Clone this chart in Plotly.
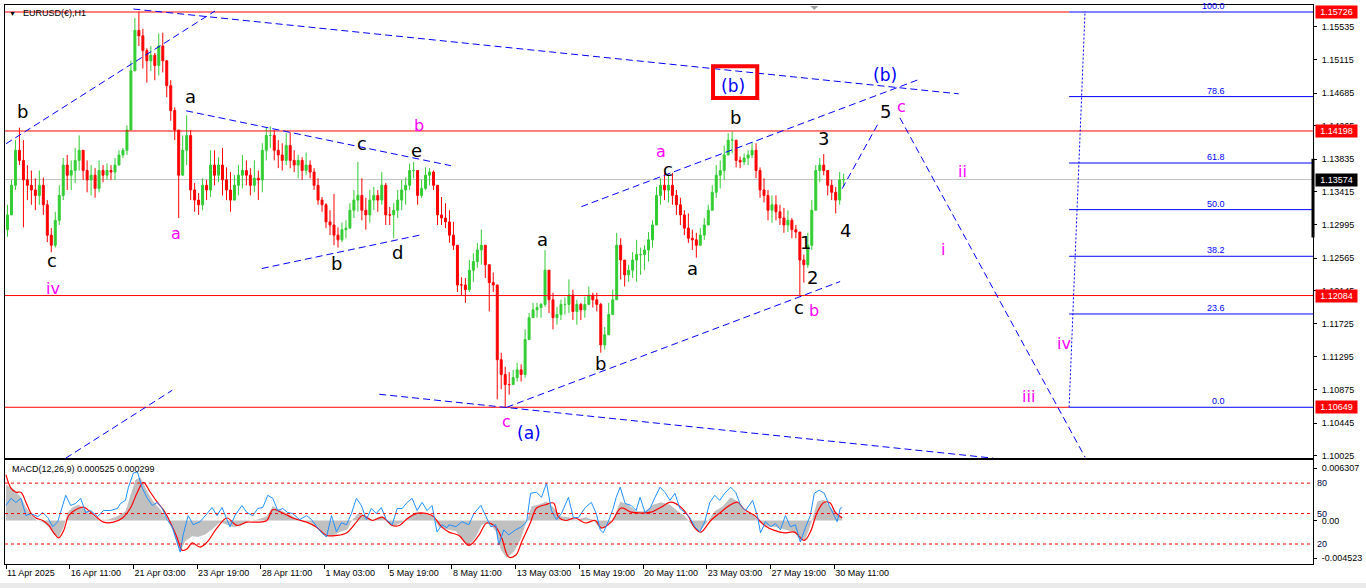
import plotly.graph_objects as go

# ------------------------------------------------------------------ data
symbol_title = "EURUSD(\u20ac),H1"
macd_title = "MACD(12,26,9) 0.000525 0.000299"

bars_per_candle = 4          # each drawn candle aggregates 4 H1 bars
open_first = 1.1293

close = [
    1.1312, 1.1350, 1.1395, 1.1382, 1.1357, 1.1350, 1.1344, 1.1337, 1.1350, 1.1325,
    1.1286, 1.1273, 1.1305, 1.1337, 1.1376, 1.1363, 1.1369, 1.1382, 1.1395, 1.1369,
    1.1357, 1.1363, 1.1346, 1.1369, 1.1363, 1.1369, 1.1367, 1.1376, 1.1389, 1.1395,
    1.1421, 1.1497, 1.1549, 1.1542, 1.1523, 1.1510, 1.1517, 1.1504, 1.1529, 1.1510,
    1.1478, 1.1446, 1.1421, 1.1363, 1.1395, 1.1414, 1.1344, 1.1331, 1.1325, 1.1350,
    1.1344, 1.1376, 1.1363, 1.1376, 1.1357, 1.1344, 1.1331, 1.1350, 1.1363, 1.1369,
    1.1363, 1.1350, 1.1359, 1.1357, 1.1395, 1.1414, 1.1414, 1.1395, 1.1389, 1.1382,
    1.1401, 1.1382, 1.1376, 1.1382, 1.1369, 1.1376, 1.1367, 1.1350, 1.1331, 1.1325,
    1.1303, 1.1299, 1.1286, 1.1280, 1.1293, 1.1295, 1.1318, 1.1331, 1.1337, 1.1318,
    1.1312, 1.1331, 1.1337, 1.1331, 1.1350, 1.1312, 1.1312, 1.1318, 1.1331, 1.1344,
    1.1350, 1.1369, 1.1369, 1.1337, 1.1346, 1.1363, 1.1367, 1.1350, 1.1312, 1.1308,
    1.1303, 1.1286, 1.1273, 1.1222, 1.1222, 1.1216, 1.1241, 1.1252, 1.1267, 1.1273,
    1.1248, 1.1225, 1.1222, 1.1126, 1.1107, 1.1094, 1.1094, 1.1103, 1.1113, 1.1107,
    1.1152, 1.1180, 1.1190, 1.1193, 1.1197, 1.1241, 1.1203, 1.1180, 1.1184, 1.1197,
    1.1197, 1.1209, 1.1188, 1.1197, 1.1190, 1.1197, 1.1209, 1.1203, 1.1197, 1.1145,
    1.1158, 1.1184, 1.1203, 1.1273, 1.1254, 1.1235, 1.1241, 1.1254, 1.1261, 1.1261,
    1.1267, 1.1280, 1.1299, 1.1337, 1.1350, 1.1344, 1.1350, 1.1337, 1.1325, 1.1312,
    1.1295, 1.1282, 1.1280, 1.1273, 1.1286, 1.1299, 1.1318, 1.1341, 1.1363, 1.1369,
    1.1389, 1.1408, 1.1408, 1.1382, 1.1380, 1.1385, 1.1389, 1.1395, 1.1369, 1.1344,
    1.1337, 1.1318, 1.1325, 1.1316, 1.1308, 1.1299, 1.1305, 1.1293, 1.1290, 1.1254,
    1.1248, 1.1273, 1.1318, 1.1369, 1.1376, 1.1369, 1.1350, 1.1341, 1.1331, 1.1357,
    1.13574,
]
high = [
    1.1325, 1.1357, 1.1408, 1.1424, 1.1408, 1.1376, 1.1369, 1.1359, 1.1369, 1.1360,
    1.1331, 1.1295, 1.1316, 1.1350, 1.1385, 1.1389, 1.1382, 1.1398, 1.1414, 1.1395,
    1.1382, 1.1376, 1.1372, 1.1382, 1.1376, 1.1378, 1.1376, 1.1385, 1.1395, 1.1398,
    1.1427, 1.1510, 1.1565, 1.1573, 1.1551, 1.1526, 1.1529, 1.1520, 1.1545, 1.1546,
    1.1510, 1.1485, 1.1450, 1.1421, 1.1414, 1.1440, 1.1421, 1.1353, 1.1340, 1.1359,
    1.1357, 1.1395, 1.1395, 1.1386, 1.1398, 1.1373, 1.1367, 1.1363, 1.1376, 1.1389,
    1.1382, 1.1372, 1.1382, 1.1369, 1.1404, 1.1424, 1.1426, 1.1421, 1.1408, 1.1404,
    1.1417, 1.1418, 1.1395, 1.1389, 1.1386, 1.1392, 1.1382, 1.1372, 1.1359, 1.1335,
    1.1327, 1.1318, 1.1339, 1.1296, 1.1302, 1.1305, 1.1327, 1.1344, 1.1380, 1.1359,
    1.1334, 1.1344, 1.1348, 1.1344, 1.1367, 1.1353, 1.1322, 1.1327, 1.1344, 1.1357,
    1.1360, 1.1378, 1.1380, 1.1363, 1.1357, 1.1373, 1.1372, 1.1369, 1.1346, 1.1335,
    1.1327, 1.1318, 1.1303, 1.1273, 1.1232, 1.1231, 1.1254, 1.1263, 1.1276, 1.1293,
    1.1263, 1.1241, 1.1238, 1.1220, 1.1135, 1.1117, 1.1110, 1.1113, 1.1122, 1.1120,
    1.1165, 1.1186, 1.1199, 1.1199, 1.1199, 1.1267, 1.1238, 1.1212, 1.1194, 1.1203,
    1.1206, 1.1229, 1.1216, 1.1203, 1.1199, 1.1207, 1.1220, 1.1212, 1.1212, 1.1199,
    1.1168, 1.1199, 1.1216, 1.1289, 1.1282, 1.1250, 1.1248, 1.1264, 1.1280, 1.1270,
    1.1273, 1.1290, 1.1305, 1.1348, 1.1359, 1.1366, 1.1363, 1.1366, 1.1344, 1.1334,
    1.1318, 1.1314, 1.1293, 1.1289, 1.1295, 1.1308, 1.1325, 1.1350, 1.1376, 1.1382,
    1.1401, 1.1417, 1.1419, 1.1408, 1.1387, 1.1391, 1.1395, 1.1405, 1.1404, 1.1373,
    1.1359, 1.1344, 1.1337, 1.1337, 1.1325, 1.1321, 1.1318, 1.1308, 1.1299, 1.1290,
    1.1261, 1.1289, 1.1331, 1.1376, 1.1385, 1.1390, 1.1367, 1.1357, 1.1348, 1.1367,
    1.1365,
]
low = [
    1.1284, 1.1312, 1.1344, 1.1376, 1.1296, 1.1331, 1.1325, 1.1318, 1.1325, 1.1312,
    1.1277, 1.1264, 1.1270, 1.1299, 1.1331, 1.1344, 1.1344, 1.1353, 1.1369, 1.1357,
    1.1341, 1.1337, 1.1334, 1.1341, 1.1354, 1.1357, 1.1357, 1.1357, 1.1380, 1.1385,
    1.1389, 1.1421, 1.1497, 1.1529, 1.1500, 1.1482, 1.1497, 1.1485, 1.1491, 1.1495,
    1.1463, 1.1433, 1.1408, 1.1308, 1.1363, 1.1376, 1.1331, 1.1316, 1.1312, 1.1318,
    1.1331, 1.1335, 1.1350, 1.1354, 1.1337, 1.1331, 1.1316, 1.1334, 1.1337, 1.1346,
    1.1350, 1.1337, 1.1341, 1.1331, 1.1341, 1.1382, 1.1398, 1.1382, 1.1372, 1.1369,
    1.1376, 1.1372, 1.1367, 1.1359, 1.1357, 1.1363, 1.1359, 1.1344, 1.1325, 1.1316,
    1.1295, 1.1286, 1.1273, 1.1270, 1.1277, 1.1282, 1.1295, 1.1308, 1.1316, 1.1305,
    1.1293, 1.1302, 1.1318, 1.1316, 1.1325, 1.1299, 1.1299, 1.1282, 1.1308, 1.1318,
    1.1325, 1.1344, 1.1359, 1.1325, 1.1334, 1.1344, 1.1350, 1.1344, 1.1299, 1.1299,
    1.1295, 1.1276, 1.1267, 1.1213, 1.1209, 1.1199, 1.1213, 1.1226, 1.1244, 1.1248,
    1.1231, 1.1188, 1.1213, 1.1075, 1.1088, 1.1065, 1.1081, 1.1094, 1.1098, 1.1098,
    1.1103, 1.1158, 1.1180, 1.1180, 1.1180, 1.1194, 1.1186, 1.1165, 1.1171, 1.1177,
    1.1184, 1.1186, 1.1177, 1.1171, 1.1177, 1.1180, 1.1197, 1.1193, 1.1188, 1.1135,
    1.1139, 1.1171, 1.1184, 1.1213, 1.1229, 1.1220, 1.1226, 1.1231, 1.1226, 1.1235,
    1.1241, 1.1252, 1.1270, 1.1299, 1.1325, 1.1331, 1.1328, 1.1325, 1.1312, 1.1299,
    1.1286, 1.1276, 1.1267, 1.1257, 1.1273, 1.1280, 1.1303, 1.1318, 1.1334, 1.1346,
    1.1357, 1.1389, 1.1391, 1.1373, 1.1372, 1.1376, 1.1376, 1.1385, 1.1359, 1.1334,
    1.1328, 1.1305, 1.1302, 1.1305, 1.1299, 1.1289, 1.1290, 1.1282, 1.1282, 1.1208,
    1.1225, 1.1244, 1.1267, 1.1325, 1.1354, 1.1363, 1.1337, 1.1331, 1.1314, 1.1325,
    1.1349,
]

# time axis (H1 bar index) and its labels
date_idx = [0, 64, 128, 192, 256, 320, 384, 448, 512, 576, 640, 704, 768, 832]
date_labels = ["11 Apr 2025", "16 Apr 11:00", "21 Apr 03:00", "23 Apr 19:00",
               "28 Apr 11:00", "1 May 03:00", "5 May 19:00", "8 May 11:00",
               "13 May 03:00", "15 May 19:00", "20 May 11:00", "23 May 03:00",
               "27 May 19:00", "30 May 11:00"]
x_min, x_max = -1, 1313

price_ticks = [1.15535, 1.15115, 1.14685, 1.14265, 1.13835, 1.13415, 1.12995,
               1.12565, 1.12145, 1.11725, 1.11295, 1.10875, 1.10445, 1.10025]
price_range = [1.09995, 1.15816]
red_levels = [1.15726, 1.14198, 1.12084, 1.10649]
current_price = 1.13574
range_marker = [1.12828, 1.13841]

fib_low, fib_high = 1.10649, 1.15726
fib_pcts = [0.0, 23.6, 38.2, 50.0, 61.8, 78.6, 100.0]
fib_start_idx = 1068
fib_label_idx = 1227

# trend / projection lines: (idx0, price0, idx1, price1)
trend_lines = [
    (0, 1.14034, 210, 1.15739),
    (128, 1.15764, 957, 1.14675),
    (181, 1.14457, 447, 1.13752),
    (257, 1.12431, 418, 1.12867),
    (60, 1.09995, 167, 1.10867),
    (375, 1.10816, 992, 1.09995),
    (503, 1.10649, 838, 1.12264),
    (578, 1.13226, 916, 1.14854),
    (840, 1.13457, 876, 1.14290),
    (898, 1.14367, 1084, 1.10008),
]
fib_diagonal = (1068, 1.10649, 1084, 1.15739)
highlight_box = (710.3, 1.14620, 754.7, 1.15030)

# wave labels: (text, bar index, price)
black_labels = [
    ("b", 17, 1.14444), ("c", 46, 1.12534), ("a", 185, 1.14636), ("c", 358, 1.14034),
    ("e", 412, 1.13944), ("b", 332, 1.12495), ("d", 393, 1.12636), ("a", 539, 1.12803),
    ("b", 597, 1.11213), ("c", 665, 1.13700), ("a", 690, 1.12431), ("b", 733, 1.14367),
    ("3", 821, 1.14098), ("4", 843, 1.12918), ("1", 803, 1.12764), ("2", 810, 1.12316),
    ("c", 797, 1.11931), ("5", 884, 1.14444),
]
pink_labels = [
    ("iv", 47, 1.12175), ("a", 171, 1.12880), ("b", 415, 1.14264), ("a", 658, 1.13931),
    ("c", 503, 1.10469), ("b", 812, 1.11893), ("c", 900, 1.14508), ("ii", 961, 1.13675),
    ("i", 941, 1.12675), ("iv", 1063, 1.11469), ("iii", 1027, 1.10790),
]
blue_labels = [("(b)", 730, 1.14777), ("(b)", 883, 1.14918), ("(a)", 525, 1.10316)]

# lower pane -------------------------------------------------------
macd_hist_idx = [0, 5, 10, 15, 20, 25, 30, 37, 43, 48, 53, 58, 62, 67, 73, 80, 87, 93,
                 102, 112, 120, 125, 130, 135, 142, 148, 155, 162, 167, 172, 175, 180,
                 187, 193, 200, 207, 215, 222, 228, 235, 243, 252, 262, 268, 275, 285,
                 295, 305, 313, 320, 328, 335, 343, 348, 355, 362, 368, 377, 383, 390,
                 398, 407, 413, 422, 428, 435, 443, 452, 460, 465, 472, 478, 485, 492,
                 497, 503, 510, 517, 523, 528, 535, 543, 550, 557, 565, 573, 582, 590,
                 597, 603, 610, 617, 625, 633, 642, 650, 658, 667, 675, 682, 690, 697,
                 705, 712, 720, 728, 735, 742, 750, 757, 765, 773, 782, 792, 798, 803,
                 810, 815, 822, 828, 835, 840]
macd_hist_e4 = [43, 40, 35, 28, 16, 7, 1, -2, -8, -17, -20, -8, 10, 16, 19, 13, 7, 1,
                1, 5, 11, 31, 49, 52, 35, 23, 13, 1, -11, -29, -38, -25,
                -19, -20, -17, -11, -2, -5, -8, -7, -1, 1, 5, 17, 13, 7,
                1, -2, -7, -17, -19, -14, -11, 1, 10, 5, 1, 5, -1, -7,
                -2, 7, 11, 7, 5, -8, -11, -13, -26, -31, -20, -5, -2, -13,
                -35, -45, -38, -23, -1, 17, 19, 23, 16, 5, 4, 1, 4, 1,
                -11, -7, 1, 23, 19, 11, 11, 19, 22, 19, 11, 5, -7, -13,
                -1, 11, 17, 28, 23, 11, 7, -2, -7, -8, -11, -14, -25, -23,
                1, 23, 25, 16, 7, 5]
macd_signal_idx = [0, 5, 10, 15, 20, 25, 30, 37, 43, 48, 53, 58, 63, 70, 78, 85, 92, 98,
                   108, 117, 125, 132, 138, 145, 152, 158, 165, 172, 177, 182, 187, 195,
                   202, 212, 222, 232, 242, 252, 262, 268, 278, 288, 302, 312, 322, 332,
                   342, 352, 358, 368, 378, 388, 395, 405, 415, 428, 438, 445, 455, 465,
                   475, 483, 492, 498, 505, 512, 518, 527, 533, 542, 550, 555, 562, 572,
                   582, 592, 598, 608, 618, 628, 638, 648, 658, 668, 678, 685, 692, 698,
                   708, 718, 728, 735, 742, 752, 762, 772, 782, 792, 802, 808, 815, 822,
                   828, 833, 840]
macd_signal_e4 = [55, 39, 34, 34, 22, 9, 3, 0, -6, -15, -21, -12, 6, 13, 16, 10, 3, -2,
                  -2, 3, 15, 34, 46, 34, 22, 13, -2, -21, -36, -34, -27, -32,
                  -26, -9, 3, -6, -2, -2, 0, 13, 9, 3, -2, -8, -18, -18,
                  -15, -2, 6, 0, 4, -6, -6, 4, 9, 6, -8, -14, -18, -30,
                  -18, -3, -8, -21, -44, -42, -26, -2, 15, 19, 21, 4, 0, 3,
                  -3, 0, -9, -2, 15, 10, 9, 10, 16, 22, 16, 6, -9, -14,
                  0, 10, 19, 22, 13, 6, -6, -12, -15, -14, -24, -14, 10, 22,
                  21, 10, 3]
osc_idx = [0, 5, 10, 15, 20, 25, 32, 37, 42, 47, 52, 57, 60, 65, 70, 75, 80, 85, 92, 98,
           105, 112, 115, 120, 123, 128, 132, 137, 142, 147, 152, 157, 162, 167, 172, 175,
           178, 183, 188, 195, 202, 207, 212, 217, 222, 225, 230, 237, 242, 248, 253, 258,
           263, 268, 273, 278, 283, 288, 295, 302, 307, 312, 317, 322, 327, 332, 337, 342,
           347, 352, 357, 362, 367, 372, 377, 382, 388, 393, 398, 403, 408, 413, 418, 423,
           428, 433, 438, 443, 445, 452, 458, 465, 470, 477, 482, 487, 492, 495, 500, 505,
           512, 518, 523, 527, 533, 538, 543, 548, 553, 558, 565, 570, 575, 582, 588, 593,
           597, 600, 605, 610, 613, 617, 622, 628, 633, 637, 642, 647, 652, 657, 662, 667,
           672, 677, 682, 687, 692, 697, 702, 707, 712, 717, 722, 728, 733, 738, 743, 750,
           755, 758, 763, 768, 773, 778, 783, 788, 793, 798, 803, 808, 812, 817, 822, 827,
           832, 835, 838, 840]
osc_val = [58, 65, 61, 65, 48, 50, 47, 51, 46, 37, 42, 58, 68, 58, 60, 65, 51, 53, 47, 53,
           53, 55, 60, 63, 76, 90, 91, 75, 65, 58, 61, 55, 44, 37, 22, 12,
           29, 48, 39, 42, 50, 56, 48, 56, 44, 37, 48, 58, 51, 48, 55, 56,
           68, 65, 53, 55, 51, 50, 44, 48, 44, 37, 31, 27, 48, 32, 41, 39,
           50, 65, 58, 44, 55, 50, 56, 44, 39, 55, 55, 61, 65, 53, 61, 53,
           58, 32, 39, 36, 39, 37, 42, 39, 50, 58, 47, 37, 39, 19, 34, 29,
           34, 37, 42, 70, 71, 66, 80, 53, 44, 50, 66, 46, 46, 56, 61, 50,
           34, 31, 42, 55, 66, 76, 60, 58, 53, 66, 51, 55, 66, 76, 71, 63,
           70, 55, 51, 46, 37, 32, 42, 61, 68, 63, 70, 76, 71, 58, 53, 63,
           47, 31, 42, 37, 40, 34, 48, 37, 39, 22, 36, 48, 70, 73, 70, 58,
           48, 42, 55, 56]
osc_levels = [80, 50, 20]
macd_range = [-0.005245, 0.007266]
macd_ticks = [0.006307, 0.0, -0.004523]
macd_ticktext = ["0.006307", "0.00", "-0.004523"]
osc_range = [0.3, 102.6]

# ------------------------------------------------------------------ build
n = min(len(close), len(high), len(low))
opens = [open_first] + close[:n - 1]
hi = [max(high[i], opens[i], close[i]) for i in range(n)]
lo = [min(low[i], opens[i], close[i]) for i in range(n)]
cx = [i * bars_per_candle + (bars_per_candle - 1) / 2 for i in range(n)]

AX_FONT = dict(family="Liberation Sans, Arial, sans-serif", size=9, color="black")
LBL_FONT = "DejaVu Sans, Verdana, sans-serif"
BLUE = "#0000FF"
RED = "#FF0000"
PINK = "#FF00FF"

fig = go.Figure()

fig.add_trace(go.Candlestick(
    x=cx, open=opens, high=hi, low=lo, close=close[:n],
    increasing=dict(line=dict(color="#32CD32", width=1), fillcolor="#32CD32"),
    decreasing=dict(line=dict(color=RED, width=1), fillcolor=RED),
    whiskerwidth=0, xaxis="x", yaxis="y", showlegend=False, hoverinfo="skip",
))

fig.add_trace(go.Scatter(
    x=macd_hist_idx, y=[v * 1e-4 for v in macd_hist_e4], mode="lines",
    line=dict(width=0, color="#C0C0C0"), fill="tozeroy", fillcolor="#C0C0C0",
    xaxis="x2", yaxis="y2", showlegend=False, hoverinfo="skip",
))
fig.add_trace(go.Scatter(
    x=macd_signal_idx, y=[v * 1e-4 for v in macd_signal_e4], mode="lines",
    line=dict(width=1.2, color=RED, shape="spline"),
    xaxis="x2", yaxis="y2", showlegend=False, hoverinfo="skip",
))
fig.add_trace(go.Scatter(
    x=osc_idx, y=osc_val, mode="lines", line=dict(width=1, color="#1E90FF"),
    xaxis="x2", yaxis="y3", showlegend=False, hoverinfo="skip",
))

shapes = []
# current price (bid) line below candles
shapes.append(dict(type="line", xref="x", yref="y", x0=x_min, x1=x_max,
                   y0=current_price, y1=current_price, layer="below",
                   line=dict(color="#C0C0C0", width=1)))
for lv in red_levels:
    x1 = fib_start_idx if lv in (fib_low, fib_high) else x_max
    shapes.append(dict(type="line", xref="x", yref="y", x0=x_min, x1=x1,
                       y0=lv, y1=lv, line=dict(color=RED, width=1)))
for p in fib_pcts:
    lv = fib_low + (fib_high - fib_low) * p / 100.0
    shapes.append(dict(type="line", xref="x", yref="y", x0=fib_start_idx, x1=x_max,
                       y0=lv, y1=lv, line=dict(color=BLUE, width=1)))
for (a0, p0, a1, p1) in trend_lines:
    shapes.append(dict(type="line", xref="x", yref="y", x0=a0, y0=p0, x1=a1, y1=p1,
                       line=dict(color=BLUE, width=1, dash="7px,4px")))
a0, p0, a1, p1 = fib_diagonal
shapes.append(dict(type="line", xref="x", yref="y", x0=a0, y0=p0, x1=a1, y1=p1,
                   line=dict(color=BLUE, width=1, dash="2px,2px")))
bx0, by0, bx1, by1 = highlight_box
shapes.append(dict(type="rect", xref="x", yref="y", x0=bx0, y0=by0, x1=bx1, y1=by1,
                   line=dict(color=RED, width=4)))
# range marker on right edge
shapes.append(dict(type="line", xref="paper", yref="y", x0=1.0, x1=1.0,
                   y0=range_marker[0], y1=range_marker[1],
                   line=dict(color="black", width=3)))
# oscillator levels
for lv in osc_levels:
    shapes.append(dict(type="line", xref="x2", yref="y3", x0=x_min, x1=x_max,
                       y0=lv, y1=lv, line=dict(color=RED, width=1, dash="3px,3px")))
# chart shift marker
shapes.append(dict(type="path", xref="paper", yref="paper",
                   path="M 0.6157 0.9982 L 0.6218 0.9982 L 0.6187 0.9911 Z",
                   fillcolor="#A0A0A0", line=dict(width=0)))
# grey strip at bottom of window
shapes.append(dict(type="rect", xref="paper", yref="paper", x0=-0.01, x1=1.05,
                   y0=-0.0429, y1=-0.034, fillcolor="#EAEAEA", line=dict(width=0),
                   layer="below"))

ann = []
ann.append(dict(text="\u25BC", xref="paper", yref="paper", x=0.0061, y=0.9848,
                xanchor="center", yanchor="middle", showarrow=False,
                font=dict(family=AX_FONT["family"], size=7, color="black")))
ann.append(dict(text=symbol_title, xref="paper", yref="paper", x=0.0122, y=0.9848,
                xanchor="left", yanchor="middle", showarrow=False, font=AX_FONT))
ann.append(dict(text=macd_title, xref="paper", yref="paper", x=0.0038, y=0.1696,
                xanchor="left", yanchor="middle", showarrow=False, font=AX_FONT))

for p in fib_pcts:
    lv = fib_low + (fib_high - fib_low) * p / 100.0
    ann.append(dict(text=f"{p:.1f}", xref="x", yref="y", x=fib_label_idx, y=lv,
                    xanchor="right", yanchor="bottom", yshift=-1, showarrow=False,
                    font=dict(family=AX_FONT["family"], size=9, color=BLUE)))

for (t, i, pr) in black_labels:
    ann.append(dict(text=t, xref="x", yref="y", x=i, y=pr, showarrow=False,
                    xanchor="center", yanchor="middle",
                    font=dict(family=LBL_FONT, size=18, color="black")))
for (t, i, pr) in pink_labels:
    ann.append(dict(text=t, xref="x", yref="y", x=i, y=pr, showarrow=False,
                    xanchor="center", yanchor="middle",
                    font=dict(family=LBL_FONT, size=16, color=PINK)))
for (t, i, pr) in blue_labels:
    ann.append(dict(text=t, xref="x", yref="y", x=i, y=pr, showarrow=False,
                    xanchor="center", yanchor="middle",
                    font=dict(family=LBL_FONT, size=17, color=BLUE)))

# price tags on the right scale
for lv in red_levels:
    ann.append(dict(text=f"{lv:.5f}", xref="paper", yref="y", x=1.0, y=lv,
                    xanchor="left", yanchor="middle", xshift=2, showarrow=False,
                    bgcolor=RED, width=39, height=10, borderpad=1, align="center",
                    font=dict(family=AX_FONT["family"], size=9, color="white")))
ann.append(dict(text=f"{current_price:.5f}", xref="paper", yref="y", x=1.0,
                y=current_price, xanchor="left", yanchor="middle", xshift=2,
                showarrow=False, bgcolor="black", width=39, height=10, borderpad=1,
                align="center",
                font=dict(family=AX_FONT["family"], size=9, color="white")))

fig.update_layout(
    width=1366, height=588,
    margin=dict(l=4, r=48, t=4, b=24),
    paper_bgcolor="white", plot_bgcolor="white",
    showlegend=False,
    xaxis=dict(domain=[0, 1], range=[x_min, x_max], anchor="y",
               showgrid=False, zeroline=False, showticklabels=False, ticks="",
               showline=True, mirror=True, linecolor="black", linewidth=1,
               rangeslider=dict(visible=False), fixedrange=True),
    yaxis=dict(domain=[0.1893, 1], range=price_range, side="right", anchor="x",
               showgrid=False, zeroline=False, tickmode="array",
               tickvals=price_ticks, ticktext=[f"{v:.5f}" for v in price_ticks],
               ticks="outside", ticklen=3, tickcolor="black", tickfont=AX_FONT,
               ticklabelstandoff=3,
               showline=True, mirror=True, linecolor="black", linewidth=1),
    xaxis2=dict(domain=[0, 1], range=[x_min, x_max], anchor="y2",
                showgrid=False, zeroline=False, tickmode="array",
                tickvals=date_idx, ticktext=date_labels, ticks="outside",
                ticklen=4, tickcolor="black", tickfont=AX_FONT,
                ticklabelposition="outside right",
                showline=True, mirror=True, linecolor="black", linewidth=1),
    yaxis2=dict(domain=[0, 0.1857], range=macd_range, side="right", anchor="x2",
                showgrid=False, zeroline=False, tickmode="array",
                tickvals=macd_ticks, ticktext=macd_ticktext, ticks="outside",
                ticklen=3, tickcolor="black", tickfont=AX_FONT, ticklabelstandoff=3,
                showline=True, mirror=True, linecolor="black", linewidth=1),
    yaxis3=dict(range=osc_range, overlaying="y2", side="right", anchor="x2",
                showgrid=False, zeroline=False, tickmode="array",
                tickvals=osc_levels, ticktext=[str(v) for v in osc_levels],
                ticks="", tickfont=dict(family=AX_FONT["family"], size=9,
                                        color="#000040"),
                ticklabelstandoff=3, showline=False),
    shapes=shapes,
    annotations=ann,
)

fig.write_html("out.html", config={"displayModeBar": False},
               post_script="document.body.style.margin='0';"
                           "document.body.style.overflow='hidden';")
